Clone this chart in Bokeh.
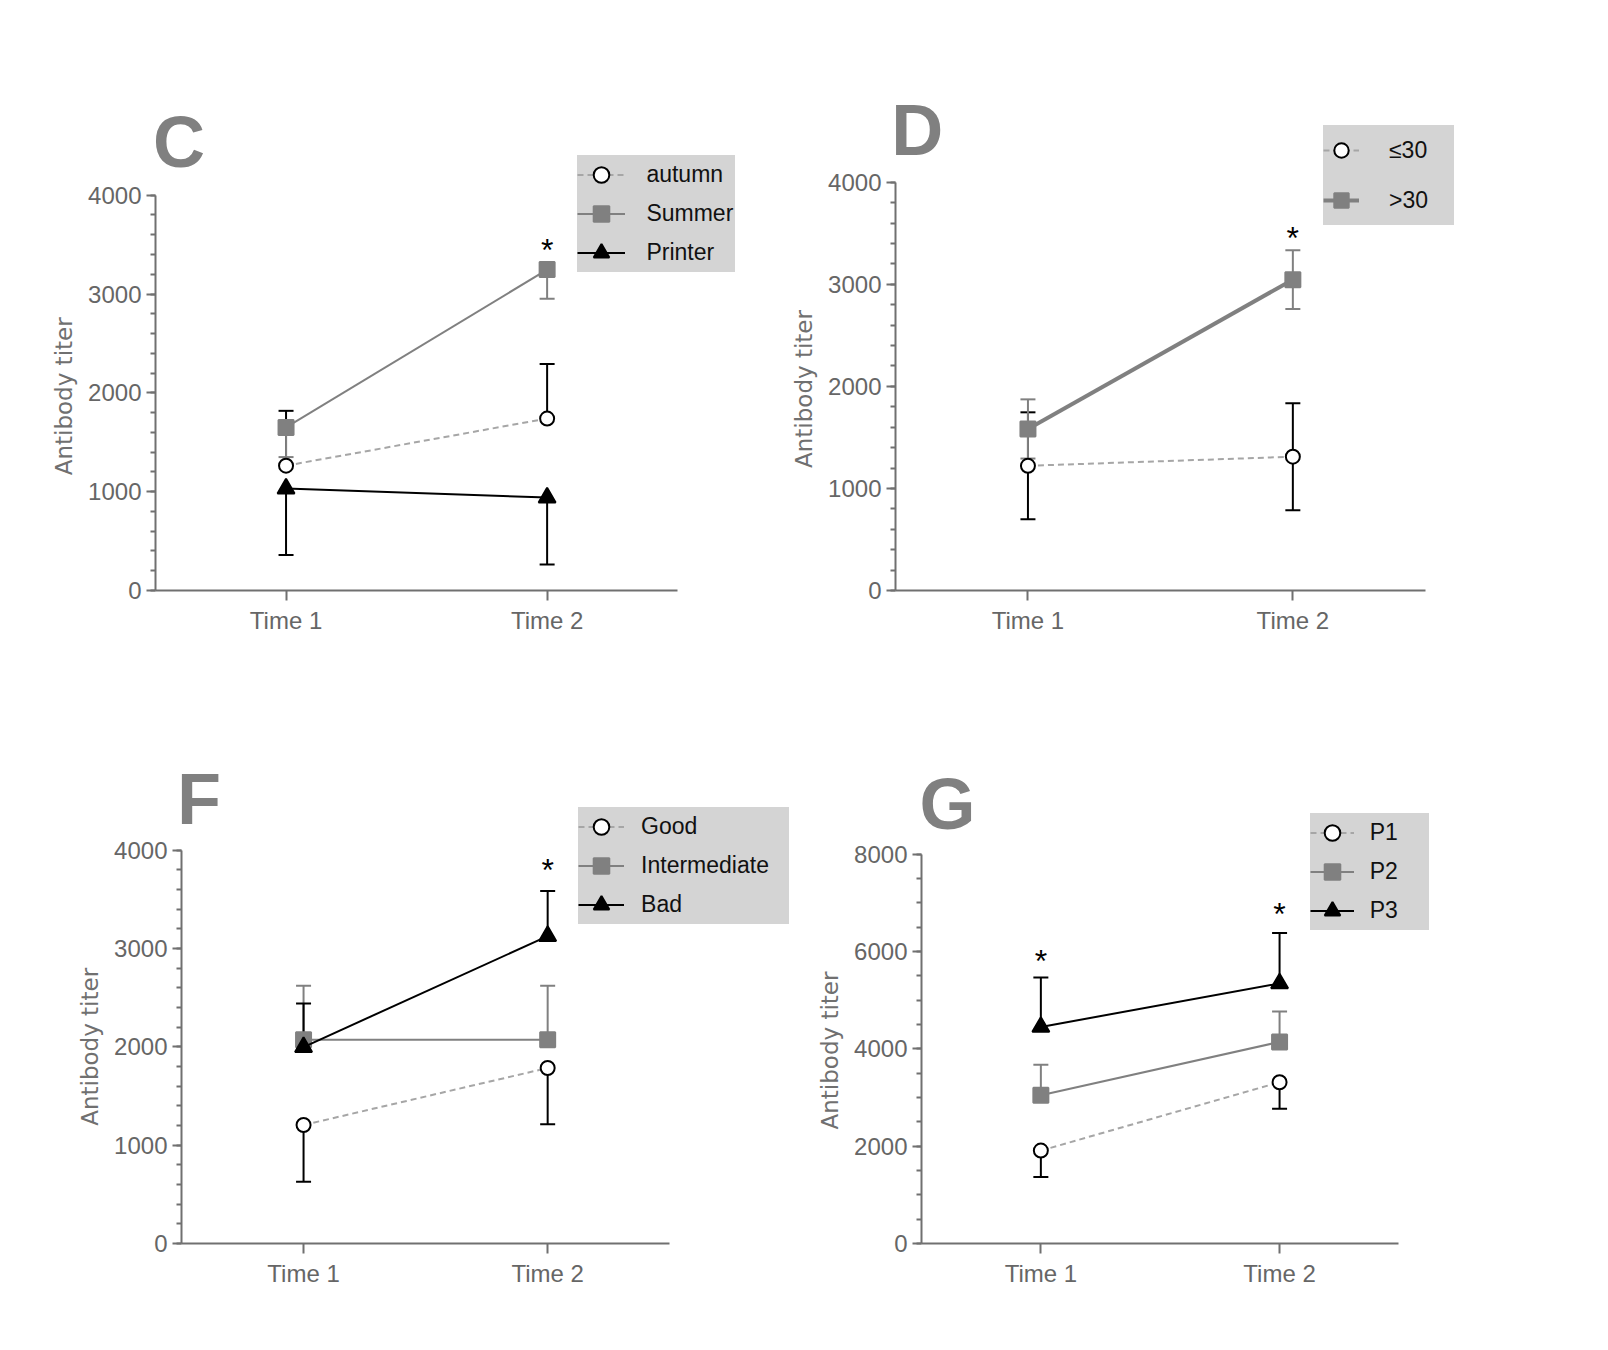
from bokeh.plotting import figure
from bokeh.models import (Range1d, Whisker, TeeHead, Legend, LegendItem,
                          Label, ColumnDataSource, SingleIntervalTicker, FixedTicker)
from bokeh.layouts import row, column
from bokeh.embed import file_html
from bokeh.resources import INLINE
from bokeh.core.properties import value
import numpy as np

times = ["Time 1", "Time 2"]
y_title = "Antibody titer"

# ---- Panel C ----
c_labels = ["autumn", "Summer", "Printer"]
c_autumn = [1263, 1740]
c_autumn_err = [555, 552]
c_summer = [1650, 3247]
c_summer_err = [300, 296]
c_printer = [1031, 940]
c_printer_err = [671, 676]
c_sig_x = ["Time 2"]
c_sig_y = [3520]

# ---- Panel D ----
d_labels = ["\u226430", ">30"]
d_le30 = [1222, 1311]
d_le30_err = [524, 524]
d_gt30 = [1583, 3046]
d_gt30_err = [290, 287]
d_sig_x = ["Time 2"]
d_sig_y = [3523]

# ---- Panel F ----
f_labels = ["Good", "Intermediate", "Bad"]
f_good = [1205, 1785]
f_good_err = [577, 572]
f_inter = [2071, 2071]
f_inter_err = [551, 551]
f_bad = [1998, 3126]
f_bad_err = [443, 459]
f_sig_x = ["Time 2"]
f_sig_y = [3871]

# ---- Panel G ----
g_labels = ["P1", "P2", "P3"]
g_p1 = [1909, 3314]
g_p1_err = [545, 545]
g_p2 = [3045, 4142]
g_p2_err = [626, 626]
g_p3 = [4450, 5344]
g_p3_err = [1017, 1039]
g_sig_x = ["Time 1", "Time 2"]
g_sig_y = [5954, 6905]

AX = "#707070"
TICK_TXT = "#666666"
FONT = "Liberation Sans"
GRAY = "#808080"
YLAB_SIZE = 23

XPOS = {t: i + 1 for i, t in enumerate(times)}

STYLE = {
    "circle": dict(marker="circle", size=14, fill="white", edge="black", lc="#a6a6a6", dash="6 4", lw=2, err="black"),
    "square": dict(marker="square", size=15, fill=GRAY, edge=GRAY, lc=GRAY, dash="solid", lw=2, err=GRAY),
    "triangle": dict(marker="triangle", size=17, fill="black", edge="black", lc="black", dash="solid", lw=2, err="black"),
}


class Panel:
    """Page geometry (pixels) of one sub-chart."""
    def __init__(self, fig_x, fig_y, fig_w, fig_h, frame_r, frame_t,
                 ax_l, ax_r, y0, ytop_px, ymax, interval, nminor, label_center):
        self.frame_l, self.y0 = ax_l, y0
        self.ax_l = ax_l
        self.kx = (ax_r - ax_l) / 2.0
        self.ky = (y0 - ytop_px) / float(ymax)
        x_end = 2.5 + (frame_r - ax_r) / self.kx
        y_end = (y0 - frame_t) / self.ky
        p = figure(width=fig_w, height=fig_h, title=None,
                   x_range=Range1d(0.5, x_end), y_range=Range1d(0, y_end),
                   min_border_left=int(round(ax_l - fig_x)), min_border_right=int(round(fig_x + fig_w - frame_r)),
                   min_border_top=int(round(frame_t - fig_y)), min_border_bottom=int(round(fig_y + fig_h - y0)),
                   output_backend="svg", toolbar_location=None)
        p.outline_line_color = None
        p.background_fill_color = "white"
        p.border_fill_color = "white"
        p.xgrid.visible = False
        p.ygrid.visible = False
        xa = p.xaxis[0]
        ya = p.yaxis[0]
        ya.ticker = SingleIntervalTicker(interval=interval, num_minor_ticks=nminor)
        xa.ticker = FixedTicker(ticks=list(XPOS.values()), minor_ticks=[])
        xa.major_label_overrides = {v: k for k, v in XPOS.items()}
        for ax in (xa, ya):
            ax.axis_line_color = AX
            ax.axis_line_width = 2
            ax.major_tick_line_color = AX
            ax.major_tick_line_width = 2
            ax.minor_tick_line_color = AX
            ax.minor_tick_line_width = 2
            ax.major_tick_in = 0
            ax.minor_tick_in = 0
            ax.major_label_text_font = FONT
            ax.major_label_text_font_size = "24px"
            ax.major_label_text_color = TICK_TXT
        xa.minor_tick_line_color = None
        ya.major_tick_out = 9
        ya.minor_tick_out = 5
        ya.major_label_standoff = 5
        ya.bounds = (0, ymax)
        # the axis title is centred on the frame; pad its end with no-break spaces so the
        # visible words sit centred on the 0..ymax axis line as in the reference
        shift = label_center - (frame_t + y0) / 2.0
        n_pad = max(0, int(round(2 * shift / (0.318 * YLAB_SIZE))))
        ya.axis_label = y_title + "\u00a0" * n_pad
        ya.axis_label_text_font = "DejaVu Sans"
        ya.axis_label_text_font_style = "normal"
        ya.axis_label_text_font_size = "%dpx" % YLAB_SIZE
        ya.axis_label_text_color = AX
        ya.axis_label_standoff = 8
        xa.bounds = (0.5, 2.5)
        xa.major_tick_out = 10
        xa.major_label_standoff = 6
        self.p = p

    def series(self, y, err, side, kind, lw=None):
        p = self.p
        st = STYLE[kind]
        y = np.array(y, dtype=float)
        e = np.array(err, dtype=float)
        if side == "up":
            lo, hi = y, y + e
        elif side == "down":
            lo, hi = y - e, y
        else:
            lo, hi = y - e, y + e
        src = ColumnDataSource(dict(x=[XPOS[t] for t in times], y=y, lower=lo, upper=hi))
        ln = p.line("x", "y", source=src, line_color=st["lc"], line_width=lw or st["lw"],
                    line_dash=st["dash"])
        head = lambda: TeeHead(size=15, line_color=st["err"], line_width=2)
        w = Whisker(base="x", upper="upper", lower="lower", source=src, dimension="height",
                    line_color=st["err"], line_width=2,
                    upper_head=head() if side != "down" else None,
                    lower_head=head() if side != "up" else None)
        p.add_layout(w)
        sc = p.scatter("x", "y", source=src, marker=st["marker"], size=st["size"],
                       fill_color=st["fill"], line_color=st["edge"], line_width=2)
        return [ln, sc]

    def legend(self, labels, rens, left, top, gw, gh, ls, lwidth, spacing=0):
        n = len(labels)
        height = n * gh + (n - 1) * spacing
        loc = (left - self.frame_l, self.y0 - (top + height))
        items = [LegendItem(label=l, renderers=r) for l, r in zip(labels, rens)]
        lg = Legend(items=items, location=loc, padding=0, margin=0, spacing=spacing,
                    glyph_width=gw, glyph_height=gh, label_height=gh, label_width=lwidth,
                    label_standoff=ls, background_fill_color="#d4d4d4", background_fill_alpha=1,
                    border_line_color=None, label_text_font=FONT, label_text_font_size="23px",
                    label_text_color="#111111")
        self.p.add_layout(lg)

    def sig(self, xs, ys):
        self.p.text(x=[XPOS[t] for t in xs], y=ys, text=["*"] * len(xs), text_align="center",
                    text_baseline="middle", text_font=value(FONT), text_font_size="32px",
                    text_color="black", y_offset=7)

    def letter(self, ch, x, baseline):
        xd = 0.5 + (x - self.ax_l) / self.kx
        yd = (self.y0 - (baseline - 26)) / self.ky
        self.p.add_layout(Label(x=xd, y=yd, x_units="data", y_units="data",
                                text=ch, text_font=FONT, text_font_size="72px",
                                text_font_style="bold", text_color=GRAY, text_align="left",
                                text_baseline="alphabetic"))


# Row 1: both frames share top (100) and bottom (598)
C = Panel(8, 8, 760, 660, 762, 100, 163.3, 685.2, 598, 202.7, 4000, 1000, 5, 404)
rC = [C.series(c_autumn, c_autumn_err, "up", "circle"),
      C.series(c_summer, c_summer_err, "down", "square"),
      C.series(c_printer, c_printer_err, "down", "triangle")]
C.legend(c_labels, rC, 585.7, 162.7, 48, 39, 21, 89)
C.sig(c_sig_x, c_sig_y)
C.letter("C", 160.7, 175.5)

D = Panel(768, 8, 824, 660, 1490, 100, 903, 1432.8, 598, 189.8, 4000, 1000, 5, 395)
rD = [D.series(d_le30, d_le30_err, "both", "circle"),
      D.series(d_gt30, d_gt30_err, "both", "square", lw=4)]
D.legend(d_labels, rD, 1331, 133, 36, 50, 30, 65)
D.sig(d_sig_x, d_sig_y)
D.letter("D", 898.7, 163)

# Row 2: both frames share top (770) and bottom (1251)
F = Panel(8, 668, 800, 670, 802, 770, 188.9, 677.2, 1251, 857.7, 4000, 1000, 5, 1056)
rF = [F.series(f_good, f_good_err, "down", "circle"),
      F.series(f_inter, f_inter_err, "up", "square"),
      F.series(f_bad, f_bad_err, "up", "triangle")]
F.legend(f_labels, rF, 586, 815, 46, 39, 17, 148)
F.sig(f_sig_x, f_sig_y)
F.letter("F", 184.4, 832.8)

G = Panel(808, 668, 784, 670, 1460, 770, 928.7, 1406.4, 1251, 861.7, 8000, 2000, 4, 1058)
rG = [G.series(g_p1, g_p1_err, "down", "circle"),
      G.series(g_p2, g_p2_err, "up", "square"),
      G.series(g_p3, g_p3_err, "up", "triangle")]
G.legend(g_labels, rG, 1317.4, 821, 44, 39, 16, 59)
G.sig(g_sig_x, g_sig_y)
G.letter("G", 926.7, 837.7)

layout = column(row(C.p, D.p), row(F.p, G.p))
open("out.html", "w").write(file_html(layout, INLINE))
